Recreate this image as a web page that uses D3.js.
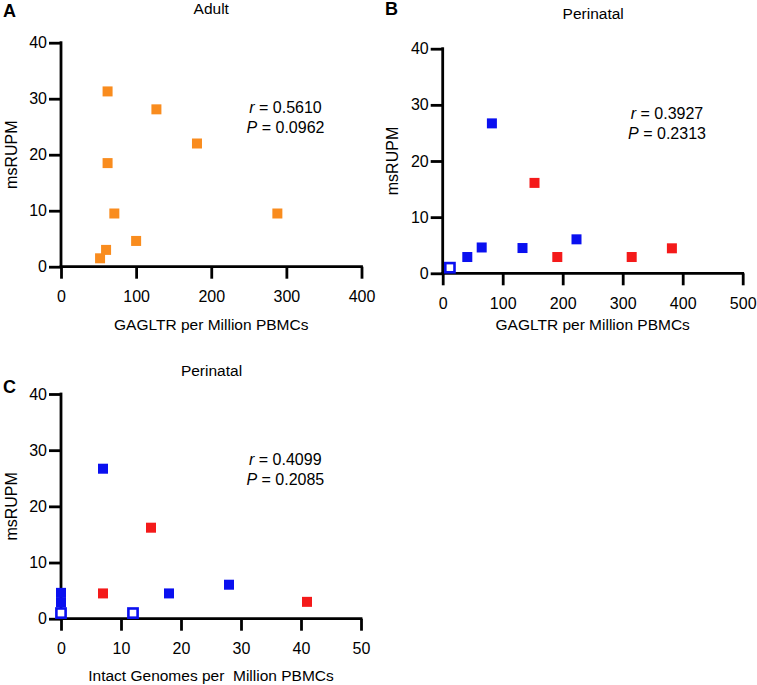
<!DOCTYPE html>
<html>
<head>
<meta charset="utf-8">
<script src="https://cdn.jsdelivr.net/npm/d3@7"></script>
<style>
  body { margin: 0; background: #fff; }
  text { font-family: "Liberation Sans", Arial, sans-serif; fill: #000; }
</style>
</head>
<body>
<div id="graph-container"></div>
<script>
// Panel A - Adult
var adultX = [62, 127, 181, 62, 71, 288, 100, 60, 52];
var adultY = [31.3, 28.1, 22.0, 18.5, 9.5, 9.5, 4.6, 3.0, 1.5];

// Panel B - Perinatal, GAGLTR
var bBlueX = [82, 41, 65, 133, 223];
var bBlueY = [26.7, 2.9, 4.6, 4.5, 6.05];
var bOpenX = [12];
var bOpenY = [1.0];
var bRedX = [153, 191, 315, 382];
var bRedY = [16.1, 2.9, 2.9, 4.45];

// Panel C - Perinatal, intact genomes
var cBlueX = [7, 18, 28, 0, 0];
var cBlueY = [26.7, 4.5, 6.05, 4.6, 2.9];
var cOpenX = [0, 12];
var cOpenY = [1.0, 1.0];
var cRedX = [15, 7, 41];
var cRedY = [16.2, 4.5, 3.0];

var yTicks = [0, 10, 20, 30, 40];
var aTicks = [0, 100, 200, 300, 400];
var bTicks = [0, 100, 200, 300, 400, 500];
var cTicks = [0, 10, 20, 30, 40, 50];

var orange = "#f98c1e", blue = "#0a10f0", red = "#f41a1a";

var svg = d3.select("#graph-container")
    .append("svg")
    .attr("width", 757)
    .attr("height", 685);

function zip(xs, ys) {
    return xs.map(function (x, i) { return [x, ys[i]]; });
}

function drawPanel(p) {
    var x = d3.scaleLinear().domain(p.xDomain).range([p.left, p.right]);
    var y = d3.scaleLinear().domain([0, 40]).range([p.bottom, p.top]);
    var g = svg.append("g");

    // axes
    var xAxis = g.append("g")
        .attr("transform", "translate(0," + p.bottom + ")")
        .call(d3.axisBottom(x).tickValues(p.xTicks).tickSize(12).tickPadding(12).tickSizeOuter(0));
    var yAxis = g.append("g")
        .attr("transform", "translate(" + p.left + ",0)")
        .call(d3.axisLeft(y).tickValues(yTicks).tickSize(12).tickPadding(2).tickSizeOuter(0));
    [xAxis, yAxis].forEach(function (a) {
        a.select(".domain").attr("stroke", "#000").attr("stroke-width", 2.8);
        a.selectAll(".tick line").attr("stroke", "#000").attr("stroke-width", 2.8);
        a.selectAll(".tick text").style("font-size", "16px")
            .style("font-family", "Liberation Sans, Arial, sans-serif");
    });
    // axis lines meet at the origin
    xAxis.select(".domain").attr("d", "M" + (p.left - 1.4) + ",0H" + (p.right + 1.4));
    yAxis.select(".domain").attr("d", "M0," + (p.bottom + 1.4) + "V" + (p.top - 1.4));

    // points
    (p.series || []).forEach(function (s) {
        var pts = zip(s.x, s.y);
        if (s.open) {
            g.selectAll(null).data(pts).join("rect")
                .attr("x", function (d) { return x(d[0]) - 4.6; })
                .attr("y", function (d) { return y(d[1]) - 4.6; })
                .attr("width", 9.2).attr("height", 9.2)
                .attr("fill", "#fff")
                .attr("stroke", s.color)
                .attr("stroke-width", 2.6);
        } else {
            g.selectAll(null).data(pts).join("rect")
                .attr("x", function (d) { return x(d[0]) - 5; })
                .attr("y", function (d) { return y(d[1]) - 5; })
                .attr("width", 10).attr("height", 10)
                .attr("fill", s.color);
        }
    });

    // texts
    g.append("text").attr("x", (p.left + p.right) / 2 + p.titleDx).attr("y", p.titleY)
        .attr("text-anchor", "middle").style("font-size", "15.5px").text(p.title);
    g.append("text").attr("x", p.letterX).attr("y", p.letterY)
        .style("font-size", "18px").style("font-weight", "bold").text(p.letter);
    g.append("text")
        .attr("transform", "translate(" + (p.left - 44.5) + "," + ((p.top + p.bottom) / 2) + ") rotate(-90)")
        .attr("text-anchor", "middle").style("font-size", "16px").text("msRUPM");
    g.append("text").attr("x", (p.left + p.right) / 2).attr("y", p.xLabelY)
        .attr("text-anchor", "middle").style("font-size", "15.5px")
        .style("white-space", "pre").text(p.xLabel);

    var stat = g.append("text").attr("x", p.statX).attr("y", p.statY)
        .attr("text-anchor", "middle").style("font-size", "16px");
    stat.append("tspan").style("font-style", "italic").text("r");
    stat.append("tspan").text(" = " + p.r);
    var stat2 = g.append("text").attr("x", p.statX).attr("y", p.statY + 20)
        .attr("text-anchor", "middle").style("font-size", "16px");
    stat2.append("tspan").style("font-style", "italic").text("P");
    stat2.append("tspan").text(" = " + p.p);
}

drawPanel({
    letter: "A", letterX: 3, letterY: 17,
    title: "Adult", titleY: 13.5, titleDx: 0,
    left: 61, right: 361.5, top: 42.7, bottom: 266.7,
    xDomain: [0, 400], xTicks: aTicks,
    xLabel: "GAGLTR per Million PBMCs", xLabelY: 329.5,
    r: "0.5610", p: "0.0962", statX: 285.5, statY: 112.7,
    series: [{ x: adultX, y: adultY, color: orange }]
});

drawPanel({
    letter: "B", letterX: 385, letterY: 15,
    title: "Perinatal", titleY: 18.5, titleDx: 0.5,
    left: 442.7, right: 742.7, top: 48.7, bottom: 273.3,
    xDomain: [0, 500], xTicks: bTicks,
    xLabel: "GAGLTR per Million PBMCs", xLabelY: 329.5,
    r: "0.3927", p: "0.2313", statX: 667, statY: 119.3,
    series: [
        { x: bRedX, y: bRedY, color: red },
        { x: bBlueX, y: bBlueY, color: blue },
        { x: bOpenX, y: bOpenY, color: blue, open: true }
    ]
});

drawPanel({
    letter: "C", letterX: 3, letterY: 393,
    title: "Perinatal", titleY: 376, titleDx: 0.5,
    left: 61, right: 361, top: 394, bottom: 618.7,
    xDomain: [0, 50], xTicks: cTicks,
    xLabel: "Intact Genomes per  Million PBMCs", xLabelY: 681,
    r: "0.4099", p: "0.2085", statX: 285.3, statY: 464.5,
    series: [
        { x: cRedX, y: cRedY, color: red },
        { x: cBlueX, y: cBlueY, color: blue },
        { x: cOpenX, y: cOpenY, color: blue, open: true }
    ]
});
</script>
</body>
</html>
